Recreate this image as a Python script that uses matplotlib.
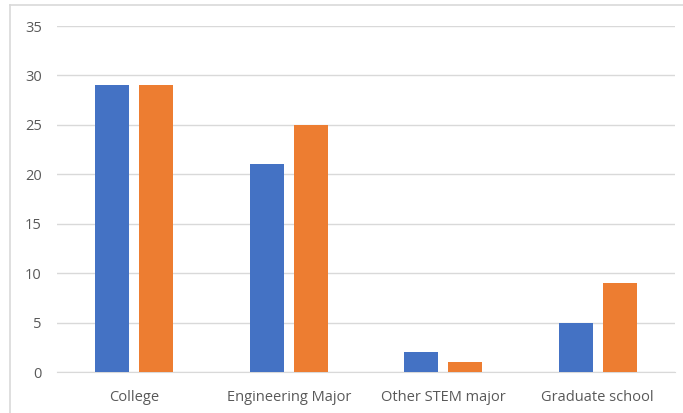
import numpy as np
import matplotlib
matplotlib.use('Agg')
import matplotlib.pyplot as plt
from matplotlib.lines import Line2D

categories = ['College', 'Engineering Major', 'Other STEM major', 'Graduate school']
series_a = [29, 21, 2, 5]
series_b = [29, 25, 1, 9]
yticks = [0, 5, 10, 15, 20, 25, 30, 35]

plt.rcParams['font.family'] = ['Open Sans', 'DejaVu Sans']

W, H = 683, 413
fig = plt.figure(figsize=(W / 100, H / 100), dpi=100)
ax = fig.add_axes([57 / W, 1 - 372 / H, (675 - 57) / W, (372 - 26) / H])

x = np.arange(len(categories))
bw = 0.22
off = 0.143
ax.bar(x - off, series_a, width=bw, color='#4472C4', zorder=3)
ax.bar(x + off, series_b, width=bw, color='#ED7D31', zorder=3)

ax.set_xlim(-0.5, len(categories) - 0.5)
ax.set_ylim(0, 35)
ax.set_yticks(yticks)
ax.set_xticks(x)
ax.set_xticklabels(categories)
ax.grid(axis='y', color='#D9D9D9', linewidth=1, zorder=0)
for s in ['top', 'right', 'left']:
    ax.spines[s].set_visible(False)
ax.spines['bottom'].set_color('#D9D9D9')
ax.tick_params(axis='both', length=0, labelsize=10.5, colors='#595959')
ax.tick_params(axis='y', pad=11)
ax.tick_params(axis='x', pad=13)

# chart border (top and left edges visible)
fig.add_artist(Line2D([10 / W, 1], [1 - 5 / H, 1 - 5 / H], transform=fig.transFigure,
                      color='#D9D9D9', linewidth=1.2))
fig.add_artist(Line2D([10 / W, 10 / W], [0, 1 - 5 / H], transform=fig.transFigure,
                      color='#D9D9D9', linewidth=1.2))

fig.savefig('out.png', dpi=100)
